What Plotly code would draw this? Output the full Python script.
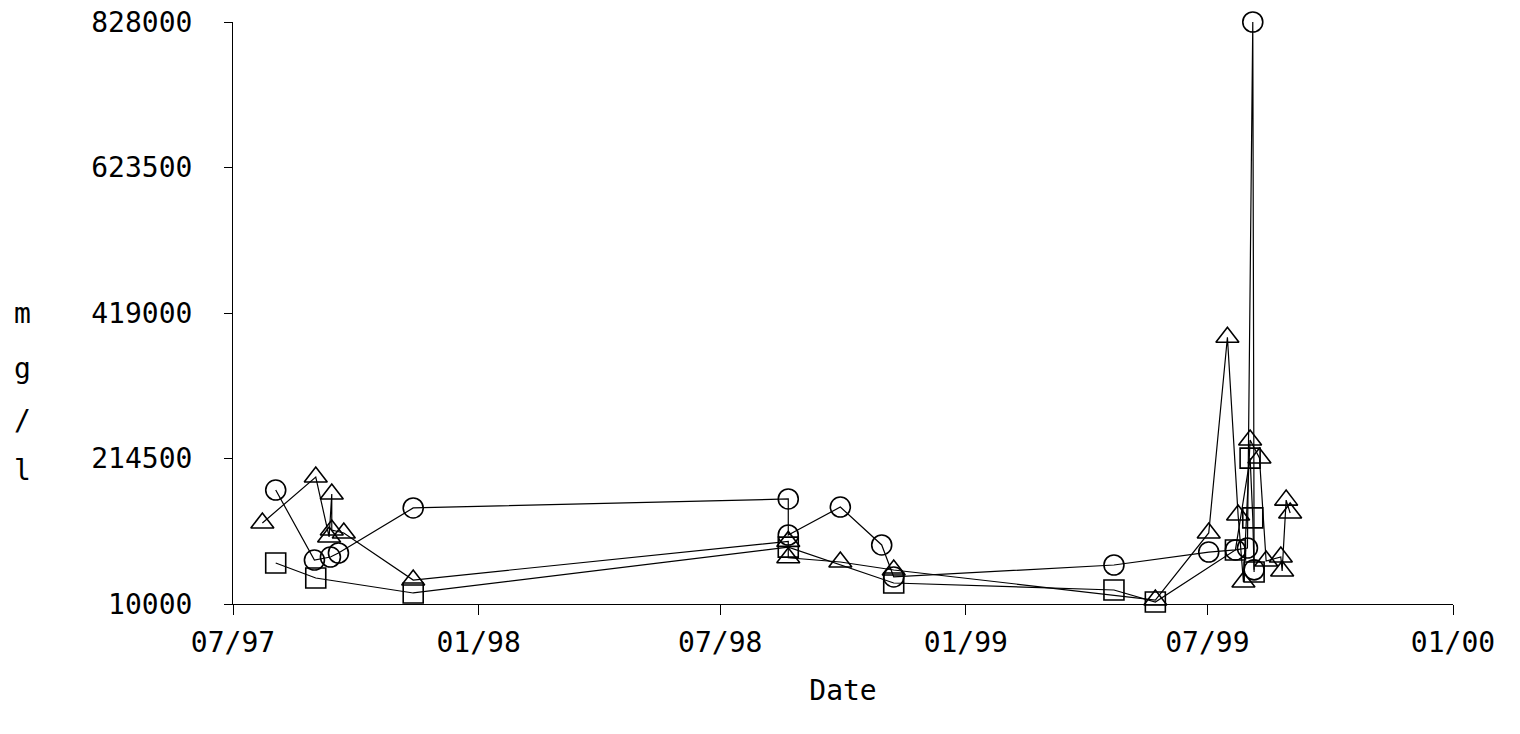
import plotly.graph_objects as go

# ---- data ----
circle_dates = ["1997-08-02", "1997-08-31", "1997-09-12", "1997-09-18", "1997-11-13",
                "1998-08-21", "1998-08-21", "1998-09-29", "1998-10-30", "1998-11-08",
                "1999-04-22", "1999-07-02", "1999-07-22", "1999-07-31", "1999-08-04", "1999-08-05"]
circle_vals = [170200, 71800, 76000, 81700, 145000,
               157600, 107000, 146300, 93000, 48000,
               64800, 83000, 86000, 88700, 828000, 58000]

triangle_dates = ["1997-07-23", "1997-09-01", "1997-09-11", "1997-09-13", "1997-09-13", "1997-09-22", "1997-11-13",
                  "1998-08-21", "1998-08-21", "1998-09-29", "1998-11-08",
                  "1999-05-23", "1999-07-02", "1999-07-16", "1999-07-24", "1999-07-28", "1999-08-02",
                  "1999-08-09", "1999-08-14", "1999-08-25", "1999-08-26", "1999-08-29", "1999-09-01"]
triangle_vals = [123800, 188500, 104200, 164600, 114000, 109800, 43700,
                 98000, 75000, 69000, 57800,
                 15600, 109800, 385000, 135000, 40900, 240500,
                 215200, 70400, 76000, 56400, 156000, 137900]

square_dates = ["1997-08-02", "1997-09-01", "1997-11-13", "1998-08-21", "1998-11-08",
                "1999-04-22", "1999-05-23", "1999-07-22", "1999-08-02", "1999-08-04", "1999-08-05"]
square_vals = [67600, 46500, 25500, 90000, 39500,
               29700, 12800, 86000, 215000, 131000, 55000]

y_ticks = [10000, 214500, 419000, 623500, 828000]
y_tick_labels = ["10000", "214500", "419000", "623500", "828000"]
x_ticks = ["1997-07-01", "1998-01-01", "1998-07-01", "1999-01-01", "1999-07-01", "2000-01-01"]
x_tick_labels = ["07/97", "01/98", "07/98", "01/99", "07/99", "01/00"]
y_title_letters = ["m", "g", "/", "l"]

FONT = "DejaVu Sans Mono"
FS = 28

fig = go.Figure()
for dates, vals, sym in [(circle_dates, circle_vals, "circle-open"),
                         (triangle_dates, triangle_vals, "triangle-up-open"),
                         (square_dates, square_vals, "square-open")]:
    fig.add_trace(go.Scatter(
        x=dates, y=vals, mode="lines+markers",
        line=dict(color="black", width=1.2),
        marker=dict(symbol=sym, size=20, color="black", line=dict(width=1.6, color="black")),
        showlegend=False, cliponaxis=False,
    ))

fig.update_layout(
    width=1520, height=734,
    margin=dict(l=233, r=67, t=22, b=130),
    paper_bgcolor="white", plot_bgcolor="white",
    font=dict(family=FONT, size=FS, color="black"),
    showlegend=False,
)
fig.update_xaxes(
    type="date", range=["1997-07-01", "2000-01-01"],
    tickmode="array", tickvals=x_ticks, ticktext=x_tick_labels,
    ticks="outside", ticklen=10, tickwidth=1, tickcolor="black",
    showline=True, linecolor="black", linewidth=1,
    showgrid=False, zeroline=False, automargin=False,
    ticklabelstandoff=3,
    title=dict(text="Date", font=dict(family=FONT, size=FS), standoff=22),
)
fig.update_yaxes(
    range=[10000, 828000],
    tickmode="array", tickvals=y_ticks, ticktext=y_tick_labels,
    ticks="outside", ticklen=8, tickwidth=1, tickcolor="black",
    showline=True, linecolor="black", linewidth=1,
    showgrid=False, zeroline=False, automargin=False,
    ticklabelstandoff=26,
)
ys = [313, 368, 420, 470]
for letter, ypx in zip(y_title_letters, ys):
    fig.add_annotation(
        text=letter, xref="paper", yref="paper",
        x=(22 - 233) / 1220, y=(604 - ypx) / 582,
        showarrow=False, xanchor="center", yanchor="middle",
        font=dict(family=FONT, size=FS, color="black"),
    )

fig.write_html("out.html")
